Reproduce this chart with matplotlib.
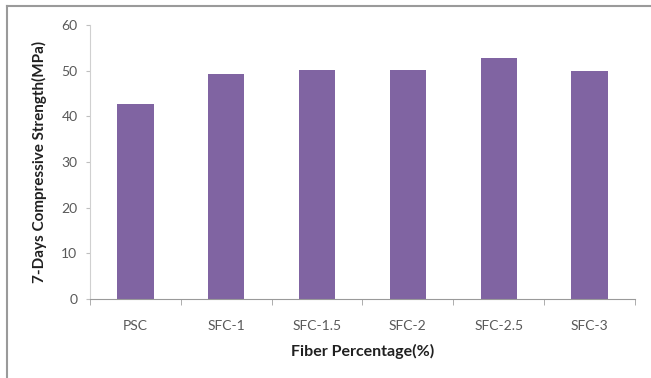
import matplotlib.pyplot as plt
from matplotlib.lines import Line2D
import numpy as np

categories = ["PSC", "SFC-1", "SFC-1.5", "SFC-2", "SFC-2.5", "SFC-3"]
strength = [42.7, 49.3, 50.2, 50.2, 52.7, 50.0]
yticks = [0, 10, 20, 30, 40, 50, 60]

plt.rcParams['font.family'] = ['Lato', 'DejaVu Sans']

fig = plt.figure(figsize=(6.51, 3.78), dpi=100)
ax = fig.add_axes([0.1382, 0.209, 0.8372, 0.725])

x = np.arange(len(categories))
ax.bar(x, strength, width=0.4, color="#8064A2", zorder=2)

ax.set_xlim(-0.5, len(categories) - 0.5)
ax.set_ylim(0, 60)
ax.set_yticks(yticks)

# category labels in the middle, tick marks on the boundaries
ax.set_xticks(x)
ax.set_xticklabels(categories)
ax.tick_params(axis="x", which="major", length=0, pad=15, labelsize=10, labelcolor="#595959")
ax.set_xticks(np.arange(-0.5, len(categories)), minor=True)
ax.tick_params(axis="x", which="minor", length=4, color="#A0A0A0", direction="out")
ax.tick_params(axis="y", length=3, color="#BFBFBF", labelsize=10, labelcolor="#595959", pad=6)

for s in ["top", "right"]:
    ax.spines[s].set_visible(False)
ax.spines["left"].set_color("#D0D0D0")
ax.spines["bottom"].set_color("#9A9A9A")

ax.set_xlabel("Fiber Percentage(%)", fontsize=11.5, fontweight="bold", color="#202020", labelpad=9)
ax.set_ylabel("7-Days Compressive Strength(MPa)", fontsize=11, fontweight="bold", color="#202020", labelpad=10)

# gray outer frame (top and left edges)
fig.add_artist(Line2D([7 / 651, 7 / 651], [0, 1 - 6 / 378], transform=fig.transFigure, color="#9A9A9A", lw=1.5))
fig.add_artist(Line2D([7 / 651, 1], [1 - 6 / 378, 1 - 6 / 378], transform=fig.transFigure, color="#9A9A9A", lw=1.5))

fig.savefig("out.png", dpi=100)
